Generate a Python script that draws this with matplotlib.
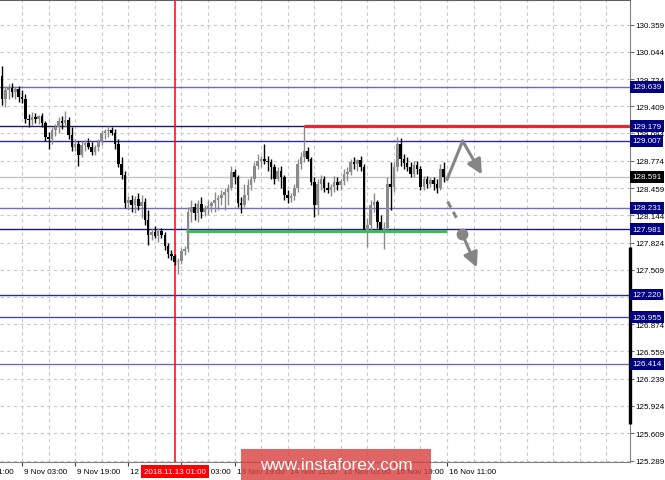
import numpy as np
import matplotlib.pyplot as plt
import matplotlib.transforms as mtransforms
from matplotlib.patches import FancyArrowPatch, Rectangle

# hourly candles, 8 Nov 21:00 .. 16 Nov 12:00
opens = [129.759, 129.501, 129.595, 129.618, 129.571, 129.606, 129.524, 129.501, 129.265, 129.253,
         129.289, 129.265, 129.301, 129.218, 129.053, 129.030, 129.136, 129.171, 129.242, 129.218,
         129.253, 129.077, 128.936, 128.971, 128.842, 128.959, 128.983, 128.936, 128.877, 128.936,
         128.995, 129.101, 129.124, 129.136, 129.101, 128.971, 128.736, 128.606, 128.289, 128.324,
         128.265, 128.336, 128.253, 128.301, 128.089, 127.912, 127.948, 127.901, 127.959, 127.912,
         127.783, 127.689, 127.665, 127.595, 127.606, 127.724, 127.748, 128.183, 128.242, 128.171,
         128.277, 128.183, 128.218, 128.253, 128.289, 128.324, 128.348, 128.383, 128.418, 128.465,
         128.642, 128.583, 128.289, 128.265, 128.383, 128.489, 128.559, 128.712, 128.771, 128.795,
         128.771, 128.759, 128.701, 128.559, 128.653, 128.583, 128.383, 128.348, 128.371, 128.465,
         128.736, 128.818, 128.889, 128.795, 128.524, 128.265, 128.501, 128.559, 128.465, 128.442,
         128.477, 128.524, 128.489, 128.536, 128.618, 128.642, 128.759, 128.736, 128.783, 128.701,
         127.971, 128.030, 128.265, 128.301, 128.065, 127.971, 127.995, 128.501, 128.477, 128.701,
         128.971, 128.795, 128.748, 128.701, 128.618, 128.724, 128.677, 128.477, 128.559, 128.512,
         128.548, 128.501, 128.465, 128.677]
highs = [129.877, 129.642, 129.665, 129.677, 129.642, 129.642, 129.595, 129.548, 129.324, 129.348,
         129.336, 129.312, 129.336, 129.242, 129.112, 129.171, 129.206, 129.289, 129.301, 129.359,
         129.289, 129.171, 129.030, 129.006, 129.006, 129.018, 129.042, 128.995, 128.959, 129.030,
         129.136, 129.148, 129.183, 129.171, 129.148, 129.030, 128.818, 128.653, 128.371, 128.383,
         128.371, 128.406, 128.383, 128.348, 128.206, 127.995, 128.018, 127.995, 127.995, 127.948,
         127.818, 127.736, 127.689, 127.642, 127.759, 127.783, 128.242, 128.324, 128.289, 128.324,
         128.359, 128.265, 128.324, 128.312, 128.418, 128.383, 128.442, 128.465, 128.501, 128.712,
         128.677, 128.606, 128.359, 128.501, 128.559, 128.595, 128.759, 128.853, 128.830, 128.971,
         128.830, 128.795, 128.736, 128.701, 128.712, 128.606, 128.442, 128.406, 128.501, 128.795,
         128.877, 129.183, 128.936, 128.818, 128.583, 128.559, 128.606, 128.595, 128.524, 128.501,
         128.595, 128.583, 128.559, 128.677, 128.701, 128.795, 128.818, 128.795, 128.830, 128.736,
         128.112, 128.324, 128.406, 128.324, 128.148, 128.065, 128.583, 128.759, 128.759, 129.053,
         129.042, 128.853, 128.818, 128.759, 128.771, 128.771, 128.712, 128.595, 128.595, 128.583,
         128.583, 128.559, 128.736, 128.759]
lows = [129.430, 129.406, 129.501, 129.524, 129.501, 129.465, 129.453, 129.218, 129.171, 129.195,
        129.218, 129.206, 129.171, 129.006, 128.912, 128.971, 129.065, 129.101, 129.148, 129.171,
        129.030, 128.889, 128.889, 128.712, 128.818, 128.889, 128.912, 128.842, 128.842, 128.889,
        128.959, 129.030, 129.053, 129.077, 128.912, 128.701, 128.559, 128.230, 128.206, 128.183,
        128.171, 128.206, 128.112, 128.030, 127.795, 127.853, 127.877, 127.830, 127.877, 127.736,
        127.642, 127.618, 127.559, 127.465, 127.571, 127.677, 127.712, 128.065, 128.089, 128.065,
        128.112, 128.136, 128.148, 128.183, 128.183, 128.206, 128.265, 128.206, 128.265, 128.442,
        128.501, 128.242, 128.171, 128.242, 128.324, 128.442, 128.524, 128.677, 128.701, 128.736,
        128.653, 128.559, 128.512, 128.536, 128.465, 128.324, 128.289, 128.301, 128.324, 128.418,
        128.677, 128.759, 128.771, 128.489, 128.124, 128.148, 128.442, 128.418, 128.406, 128.371,
        128.418, 128.442, 128.442, 128.489, 128.536, 128.606, 128.677, 128.653, 128.653, 127.948,
        127.771, 127.971, 128.183, 127.995, 127.948, 127.748, 127.948, 128.206, 128.418, 128.653,
        128.712, 128.677, 128.653, 128.583, 128.583, 128.618, 128.442, 128.442, 128.465, 128.477,
        128.442, 128.406, 128.442, 128.524]
closes = [129.501, 129.595, 129.618, 129.571, 129.606, 129.524, 129.501, 129.265, 129.253, 129.289,
          129.265, 129.301, 129.218, 129.053, 129.030, 129.136, 129.171, 129.242, 129.218, 129.253,
          129.077, 128.936, 128.971, 128.842, 128.959, 128.983, 128.936, 128.877, 128.936, 128.995,
          129.101, 129.124, 129.136, 129.101, 128.971, 128.736, 128.606, 128.289, 128.324, 128.265,
          128.336, 128.253, 128.301, 128.089, 127.912, 127.948, 127.901, 127.959, 127.912, 127.783,
          127.689, 127.665, 127.595, 127.606, 127.724, 127.748, 128.183, 128.242, 128.171, 128.277,
          128.183, 128.218, 128.253, 128.289, 128.324, 128.348, 128.383, 128.418, 128.465, 128.642,
          128.583, 128.289, 128.265, 128.383, 128.489, 128.559, 128.712, 128.771, 128.795, 128.771,
          128.759, 128.701, 128.559, 128.653, 128.583, 128.383, 128.348, 128.371, 128.465, 128.736,
          128.818, 128.889, 128.795, 128.524, 128.265, 128.501, 128.559, 128.465, 128.442, 128.477,
          128.524, 128.489, 128.536, 128.618, 128.642, 128.759, 128.736, 128.783, 128.701, 127.971,
          128.030, 128.265, 128.301, 128.065, 127.971, 127.995, 128.501, 128.477, 128.701, 128.971,
          128.795, 128.748, 128.701, 128.618, 128.724, 128.677, 128.477, 128.559, 128.512, 128.548,
          128.501, 128.465, 128.677, 128.591]

price_ticks = [130.359, 130.044, 129.724, 129.409, 129.094, 128.774, 128.459, 128.144,
               127.824, 127.509, 127.194, 126.874, 126.559, 126.239, 125.924, 125.609, 125.289]
levels = [129.639, 129.179, 129.007, 128.231, 127.981, 127.220, 126.955, 126.414]
level_colors = ['#6c6cb4', '#1a1a70', '#2a2a9a', '#7070b8', '#1a1a80', '#2a2a90', '#4a4aa8', '#6c6cb4']
last_price = 128.591

time_bars = [-10, 6, 22, 38, 54, 70, 86, 102, 118, 134]
time_labels = ['8 Nov 11:00', '9 Nov 03:00', '9 Nov 19:00', '12 Nov 11:00', '13 Nov 03:00',
               '13 Nov 19:00', '14 Nov 11:00', '15 Nov 03:00', '15 Nov 19:00', '16 Nov 11:00']
marker_bar = 52
marker_label = '2018.11.13 01:00'

resistance = 129.179
resistance_from = 91
support = 127.955
support_from, support_to = 55.4, 134

# forecast sketch (bar index, price)
up_x = [134.0, 138.7, 144.5]
up_y = [128.559, 129.006, 128.618]
dash_x = [134.2, 137.0]
dash_y = [128.301, 128.100]
dot_x, dot_y = 138.6, 127.930
down_x = [139.1, 143.0]
down_y = [127.877, 127.536]

plt.rcParams['font.family'] = ['Liberation Sans', 'DejaVu Sans']

fig = plt.figure(figsize=(6.65, 4.81), dpi=100)
ax = fig.add_axes([0, 18 / 481, 630 / 665, 462 / 481])

ax.set_axisbelow(True)
ax.set_yticks(price_ticks)
ax.yaxis.tick_right()
ax.tick_params(axis='y', length=3, width=0.8, color='#707070', labelsize=5.8, pad=1)
ax.set_xticks(time_bars[1:])
ax.set_xticklabels([])
ax.set_xticks(np.arange(-2, 190, 8), minor=True)
ax.tick_params(axis='x', which='major', length=3, width=0.8, color='#404040')
ax.tick_params(axis='x', which='minor', length=0)
ax.grid(True, which='both', color='#c8c8c8', linestyle=(0, (3, 3)), linewidth=0.8)
ax.set_xlim(-0.63, 189.1)
ax.set_ylim(125.272, 130.647)

# time labels start just right of their tick
xtrans = mtransforms.blended_transform_factory(ax.transData, ax.transAxes)
off = mtransforms.ScaledTranslation(2 / 100, 0, fig.dpi_scale_trans)
for b, lab in zip(time_bars, time_labels):
    ax.text(b, -0.02, lab, transform=xtrans + off, ha='left', va='center',
            fontsize=5.8, color='black', clip_on=False, zorder=3)

ax.spines['left'].set_visible(False)
ax.spines['top'].set_color('#606060')
ax.spines['right'].set_color('#808080')
ax.spines['bottom'].set_color('#808080')

trans = mtransforms.blended_transform_factory(ax.transAxes, ax.transData)
ax.plot([1.0, 1.0], [127.77, 125.71], transform=trans, color='black', lw=2.4,
        clip_on=False, zorder=6, solid_capstyle='butt')

# level lines
ax.axhline(last_price, color='#c4c4c4', lw=1, zorder=1.5)
for lv, col in zip(levels, level_colors):
    ax.axhline(lv, color=col, lw=1, zorder=2)

ax.axvline(marker_bar, color='#ff0000', lw=1.1, zorder=2)

# candles
x = np.arange(len(closes))
o = np.array(opens)
c = np.array(closes)
up = c >= o
cols = np.where(up, '#8a8a8a', '#000000')
ax.vlines(x, lows, highs, colors=cols, lw=1.0, zorder=3)
body = c - o
body = np.where(np.abs(body) < 0.012, np.where(up, 0.012, -0.012), body)
ax.bar(x, body, bottom=o, width=0.78, color=cols, linewidth=0, zorder=3)

ax.plot([resistance_from, 189.1], [resistance, resistance], color='#e8262b', lw=2.3,
        solid_capstyle='butt', zorder=4)
ax.plot([support_from, support_to], [support, support], color='#3dbb5a', lw=2.3,
        solid_capstyle='butt', zorder=4)

# forecast arrows
gray = '#858585'
ax.plot(up_x[:2], up_y[:2], color=gray, lw=2.2, zorder=5, solid_capstyle='round')
ax.add_patch(FancyArrowPatch((up_x[1], up_y[1]), (up_x[2], up_y[2]), arrowstyle='-|>',
                             mutation_scale=22, color=gray, lw=2.2, zorder=5,
                             shrinkA=0, shrinkB=0))
ax.plot(dash_x, dash_y, color=gray, lw=2.2, linestyle=(0, (2.2, 1.6)), zorder=5)
ax.plot(dot_x, dot_y, 'o', color=gray, ms=7.5, zorder=5)
ax.add_patch(FancyArrowPatch((down_x[0], down_y[0]), (down_x[1], down_y[1]), arrowstyle='-|>',
                             mutation_scale=22, color=gray, lw=2.2, zorder=5,
                             shrinkA=0, shrinkB=0))

# price boxes on the right scale
boxoff = mtransforms.ScaledTranslation(2 / 100, 0, fig.dpi_scale_trans)
for lv in levels:
    ax.text(1.0, lv, f'{lv:.3f}', transform=trans + boxoff, ha='left', va='center',
            fontsize=5.8, color='white', clip_on=False, zorder=8,
            bbox=dict(boxstyle='square,pad=0.3', fc='#000080', ec='none'))
ax.text(1.0, last_price, f'{last_price:.3f}', transform=trans + boxoff, ha='left', va='center',
        fontsize=5.8, color='white', clip_on=False, zorder=8,
        bbox=dict(boxstyle='square,pad=0.3', fc='#000000', ec='none'))

# current time box on the time scale
ax.text(marker_bar, -0.02, marker_label, transform=xtrans,
        ha='center', va='center', fontsize=5.8, color='white', clip_on=False, zorder=8,
        bbox=dict(boxstyle='square,pad=0.4', fc='#ff0000', ec='none'))

# watermark
fig.patches.append(Rectangle((241 / 665, 0), 190 / 665, 31 / 481, transform=fig.transFigure,
                             facecolor='#d94040', alpha=0.8, edgecolor='none', zorder=10))
fig.text(336 / 665, 15 / 481, 'www.instaforex.com', ha='center', va='center', fontsize=12.3,
         color='white', zorder=11)

fig.savefig('out.png', dpi=100)
